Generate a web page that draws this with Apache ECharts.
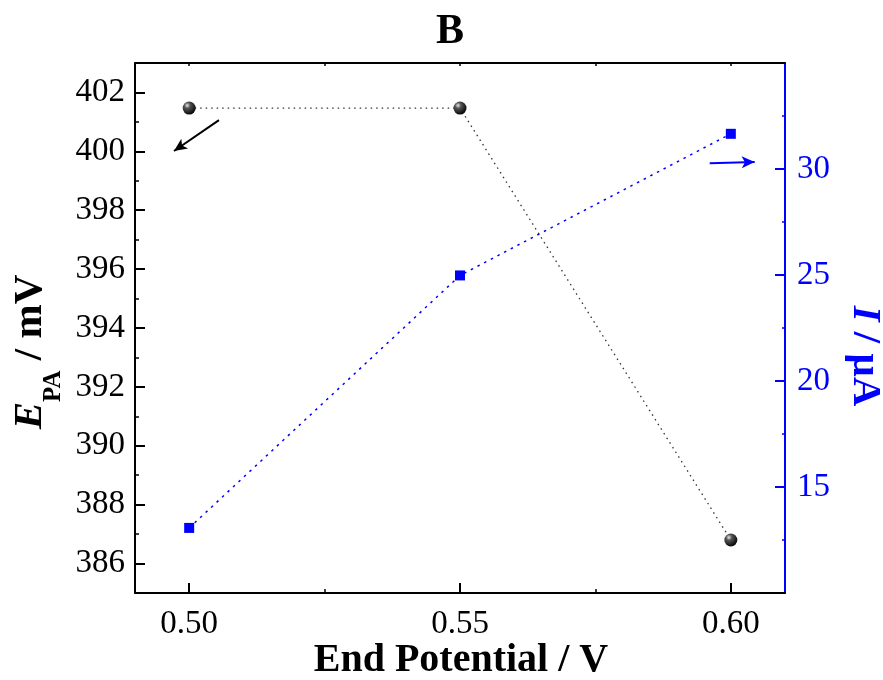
<!DOCTYPE html>
<html>
<head>
    <title>End potential vs E_PA and I</title>
    <script src="https://cdn.jsdelivr.net/npm/echarts@6.0.0/dist/echarts.min.js"></script>
    <style>
      html, body { margin: 0; padding: 0; background: #fff; }
    </style>
</head>
<body>
    <div id="chart" style="width: 883px; height: 680px;"></div>
    <script>
        // data
        var endPotential = [0.50, 0.55, 0.60];
        var epaMv = [401.47, 401.47, 386.8];
        var currentUa = [13.07, 24.98, 31.66];

        // tick values
        var xTickValues = [0.50, 0.55, 0.60];
        var xMinorValues = [0.525, 0.575];
        var leftTickValues = [386, 388, 390, 392, 394, 396, 398, 400, 402];
        var leftMinorValues = [387, 389, 391, 393, 395, 397, 399, 401];
        var rightTickValues = [15, 20, 25, 30];
        var rightMinorValues = [12.5, 17.5, 22.5, 27.5, 32.5];

        // annotation arrows (data coords: tail, head)
        var arrowBlack = [[0.5055, 401.06], [0.4972, 400.01]];
        var arrowBlue = [[0.5961, 30.27], [0.6044, 30.33]];

        var FONT = 'Liberation Serif';
        var BLUE = '#0000ff';

        function pairs(xs, ys) {
          return xs.map(function (x, i) { return [x, ys[i]]; });
        }

        function measure(txt, font) {
          var c = document.createElement('canvas').getContext('2d');
          c.font = font;
          return c.measureText(txt).width;
        }

        function minorAxis(pos, min, max, values, color, len) {
          return {
            type: 'value', position: pos, min: min, max: max,
            axisLine: { show: false, onZero: false },
            axisTick: { show: true, inside: true, length: len, customValues: values,
                        lineStyle: { color: color, width: 1.5 } },
            axisLabel: { show: false },
            splitLine: { show: false }
          };
        }

        // left axis title: E_PA / mV, built from pieces
        var fMain = 'bold 41px "' + FONT + '"';
        var fItal = 'italic bold 41px "' + FONT + '"';
        var fSub = 'bold 25px "' + FONT + '"';
        var wE = measure('E', fItal), wPA = measure('PA', fSub), wRest = measure(' / mV', fMain);
        var x0 = -(wE + wPA + wRest) / 2;
        var leftTitle = {
          type: 'group', x: 44, y: 352, rotation: Math.PI / 2,
          children: [
            { type: 'text', x: x0, y: -14, style: { text: 'E', font: fItal, fill: '#000', verticalAlign: 'middle' } },
            { type: 'text', x: x0 + wE, y: 10, style: { text: 'PA', font: fSub, fill: '#000', verticalAlign: 'middle' } },
            { type: 'text', x: x0 + wE + wPA, y: -14, style: { text: ' / mV', font: fMain, fill: '#000', verticalAlign: 'middle' } }
          ]
        };

        var wI = measure('I', fItal), wRest2 = measure(' / \u03bcA', fMain);
        var x1 = -(wI + wRest2) / 2;
        var rightTitle = {
          type: 'group', x: 851, y: 356, rotation: -Math.PI / 2,
          children: [
            { type: 'text', x: x1, y: -14, style: { text: 'I', font: fItal, fill: BLUE, verticalAlign: 'middle' } },
            { type: 'text', x: x1 + wI, y: -14, style: { text: ' / \u03bcA', font: fMain, fill: BLUE, verticalAlign: 'middle' } }
          ]
        };

        var chart = echarts.init(document.getElementById('chart'), null, { renderer: 'canvas' });

        var option = {
          animation: false,
          backgroundColor: '#fff',
          grid: { left: 135, right: 98, top: 63, bottom: 87, containLabel: false },
          graphic: [
            { type: 'text', x: 450, y: 32, style: { text: 'B', font: 'bold 42px "' + FONT + '"', fill: '#000',
              align: 'center', verticalAlign: 'middle' } },
            { type: 'text', x: 461, y: 661, style: { text: 'End Potential / V', font: 'bold 40px "' + FONT + '"', fill: '#000',
              align: 'center', verticalAlign: 'middle' } },
            leftTitle,
            rightTitle
          ],
          xAxis: [
            {
              type: 'value', position: 'bottom', min: 0.49, max: 0.61,
              axisLine: { show: true, onZero: false, lineStyle: { color: '#000', width: 2 } },
              axisTick: { show: true, inside: true, length: 10, customValues: xTickValues,
                          lineStyle: { color: '#000', width: 2 } },
              axisLabel: { customValues: xTickValues, margin: 6, color: '#000',
                           fontFamily: FONT, fontSize: 33,
                           formatter: function (v) { return v.toFixed(2); } },
              splitLine: { show: false }
            },
            minorAxis('bottom', 0.49, 0.61, xMinorValues, '#000', 4),
            {
              type: 'value', position: 'top', min: 0.49, max: 0.61,
              axisLine: { show: true, onZero: false, lineStyle: { color: '#000', width: 2 } },
              axisTick: { show: true, inside: true, length: 3,
                          customValues: xTickValues.concat(xMinorValues),
                          lineStyle: { color: '#000', width: 1.5 } },
              axisLabel: { show: false },
              splitLine: { show: false }
            }
          ],
          yAxis: [
            {
              type: 'value', position: 'left', min: 385, max: 403,
              axisLine: { show: true, onZero: false, lineStyle: { color: '#000', width: 2 } },
              axisTick: { show: true, inside: true, length: 10, customValues: leftTickValues,
                          lineStyle: { color: '#000', width: 2 } },
              axisLabel: { customValues: leftTickValues, margin: 10, color: '#000',
                           fontFamily: FONT, fontSize: 33 },
              splitLine: { show: false }
            },
            {
              type: 'value', position: 'right', min: 10, max: 35,
              axisLine: { show: true, onZero: false, lineStyle: { color: BLUE, width: 2 } },
              axisTick: { show: true, inside: true, length: 10, customValues: rightTickValues,
                          lineStyle: { color: BLUE, width: 2 } },
              axisLabel: { customValues: rightTickValues, margin: 12, color: BLUE,
                           fontFamily: FONT, fontSize: 33 },
              splitLine: { show: false }
            },
            minorAxis('left', 385, 403, leftMinorValues, '#000', 4),
            minorAxis('right', 10, 35, rightMinorValues, BLUE, 3)
          ],
          series: [
            {
              name: 'EPA', type: 'line', xAxisIndex: 0, yAxisIndex: 0,
              data: pairs(endPotential, epaMv),
              symbol: 'circle', symbolSize: 13,
              itemStyle: {
                color: { type: 'radial', x: 0.35, y: 0.3, r: 0.75,
                         colorStops: [{ offset: 0, color: '#e8e8e8' },
                                      { offset: 0.3, color: '#555' },
                                      { offset: 1, color: '#000' }] }
              },
              lineStyle: { color: '#333', width: 1.3, type: [1.5, 4] },
              markLine: {
                silent: true, symbol: ['none', 'arrow'], symbolSize: [9, 13],
                label: { show: false },
                lineStyle: { color: '#000', width: 2, type: 'solid' },
                data: [[{ coord: arrowBlack[0] }, { coord: arrowBlack[1] }]]
              }
            },
            {
              name: 'I', type: 'line', xAxisIndex: 0, yAxisIndex: 1,
              data: pairs(endPotential, currentUa),
              symbol: 'rect', symbolSize: 10,
              itemStyle: { color: BLUE },
              lineStyle: { color: BLUE, width: 1.5, type: [2.5, 5] },
              markLine: {
                silent: true, symbol: ['none', 'arrow'], symbolSize: [9, 13],
                label: { show: false },
                lineStyle: { color: BLUE, width: 2, type: 'solid' },
                data: [[{ coord: arrowBlue[0] }, { coord: arrowBlue[1] }]]
              }
            }
          ]
        };

        chart.setOption(option);
    </script>
</body>
</html>
